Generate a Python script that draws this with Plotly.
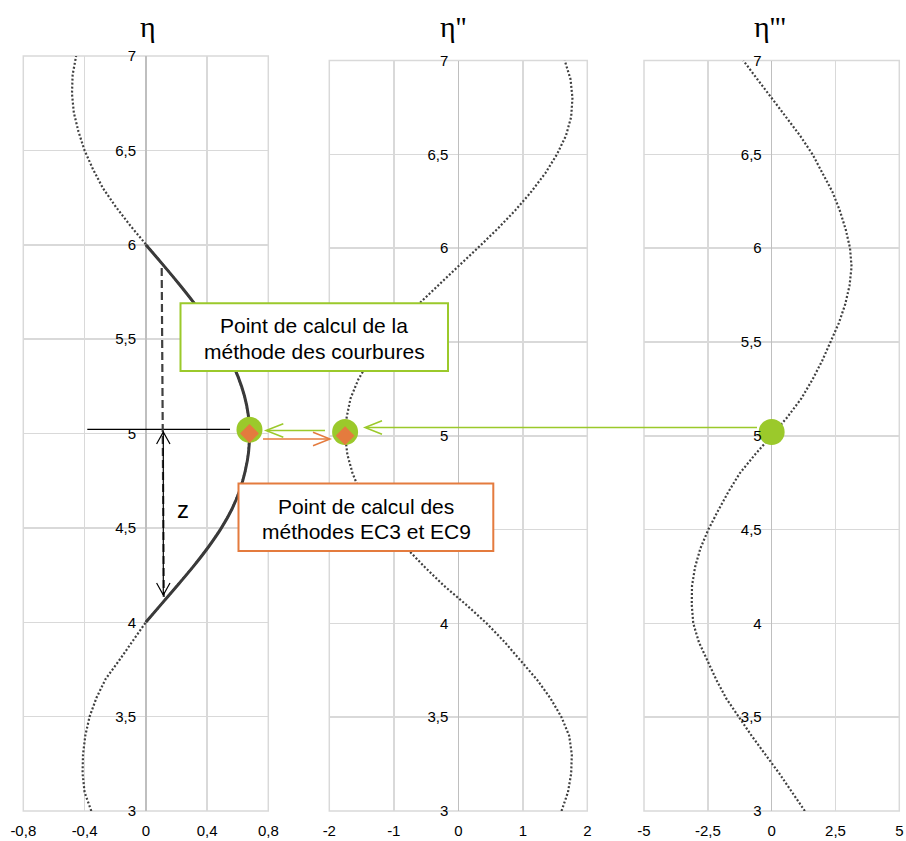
import plotly.graph_objects as go

# the figure fills the whole 906x841 window (body margin removed after drawing)
OFF = 0
W, H = 906 - OFF, 841 - OFF

# ---------------- data ----------------
y_pos = [3.0, 3.1, 3.2, 3.3, 3.4, 3.5, 3.6, 3.7, 3.8, 3.9,
         4.0, 4.1, 4.2, 4.3, 4.4, 4.5, 4.6, 4.7, 4.8, 4.9,
         5.0, 5.1, 5.2, 5.3, 5.4, 5.5, 5.6, 5.7, 5.8, 5.9,
         6.0, 6.1, 6.2, 6.3, 6.4, 6.5, 6.6, 6.7, 6.8, 6.9, 7.0]

eta = [-0.356, -0.400, -0.413, -0.410, -0.395, -0.367, -0.322, -0.262, -0.172, -0.085,
       0.000, 0.106, 0.212, 0.315, 0.410, 0.494, 0.563, 0.614, 0.649, 0.671,
       0.677, 0.669, 0.644, 0.603, 0.548, 0.479, 0.398, 0.307, 0.209, 0.106,
       0.000, -0.100, -0.195, -0.280, -0.345, -0.400, -0.440, -0.470, -0.482, -0.478, -0.455]

eta2 = [1.60, 1.70, 1.75, 1.76, 1.72, 1.60, 1.43, 1.22, 0.97, 0.72,
        0.44, 0.12, -0.22, -0.52, -0.80, -1.06, -1.32, -1.52, -1.64, -1.72,
        -1.755, -1.73, -1.67, -1.55, -1.38, -1.16, -0.90, -0.62, -0.32, -0.01,
        0.30, 0.60, 0.88, 1.13, 1.35, 1.53, 1.67, 1.75, 1.77, 1.74, 1.65]

eta3 = [1.30, 0.80, 0.30, -0.24, -0.78, -1.28, -1.78, -2.17, -2.52, -2.85,
        -3.07, -3.13, -3.12, -3.00, -2.79, -2.48, -2.10, -1.70, -1.25, -0.65,
        0.00, 0.62, 1.17, 1.60, 1.98, 2.32, 2.63, 2.88, 3.05, 3.13,
        3.07, 2.90, 2.67, 2.38, 2.00, 1.60, 1.11, 0.57, 0.00, -0.56, -1.11]

solid_range = [4.0, 6.0]          # part of eta drawn as solid line
calc_y = 5.0                      # calculation section
circle_y = 5.02                   # green circles sit slightly above

titles = ["η", "η''", "η'''"]

x1_ticks = [-0.8, -0.4, 0, 0.4, 0.8]
x1_text = ["-0,8", "-0,4", "0", "0,4", "0,8"]
x2_ticks = [-2, -1, 0, 1, 2]
x2_text = ["-2", "-1", "0", "1", "2"]
x3_ticks = [-5, -2.5, 0, 2.5, 5]
x3_text = ["-5", "-2,5", "0", "2,5", "5"]
y_ticks = [3, 3.5, 4, 4.5, 5, 5.5, 6, 6.5, 7]
y_text = ["3", "3,5", "4", "4,5", "5", "5,5", "6", "6,5", "7"]
# in the middle panel the 4,5 and 5,5 labels are hidden behind the boxes
y_text_mid = ["3", "3,5", "4", "", "5", "", "6", "6,5", "7"]

box1_lines = ["Point de calcul de la", "méthode des courbures"]
box2_lines = ["Point de calcul des", "méthodes EC3 et EC9"]

# ---------------- styles ----------------
GREEN = "#9BC92B"
ORANGE = "#E47B3E"
CURVE = "#404040"
GRID = "#d9d9d9"
ZERO = "#bfbfbf"
FONT = "Liberation Sans, Arial, sans-serif"
SERIF = "Liberation Serif, Times New Roman, serif"


def px(x):
    return (x - OFF) / W


def py(y):
    return 1 - (y - OFF) / H


idx = y_pos.index(calc_y)

fig = go.Figure()

# panel 1 : eta
fig.add_trace(go.Scatter(x=eta, y=y_pos, mode="lines", xaxis="x", yaxis="y",
                         line=dict(color=CURVE, width=2.2, dash="2px,2px"), showlegend=False))
sy = [v for v in y_pos if solid_range[0] <= v <= solid_range[1]]
sx = [eta[i] for i, v in enumerate(y_pos) if solid_range[0] <= v <= solid_range[1]]
fig.add_trace(go.Scatter(x=sx, y=sy, mode="lines", xaxis="x", yaxis="y", line_shape="spline",
                         line=dict(color="#3a3a3a", width=3), showlegend=False))
# panel 2 : eta''
fig.add_trace(go.Scatter(x=eta2, y=y_pos, mode="lines", xaxis="x2", yaxis="y2",
                         line=dict(color=CURVE, width=2.2, dash="2px,2px"), showlegend=False))
# panel 3 : eta'''
fig.add_trace(go.Scatter(x=eta3, y=y_pos, mode="lines", xaxis="x3", yaxis="y3",
                         line=dict(color=CURVE, width=2.2, dash="2px,2px"), showlegend=False))

# calculation points
for xa, ya, series, diamond in (("x", "y", eta, True), ("x2", "y2", eta2, True), ("x3", "y3", eta3, False)):
    fig.add_trace(go.Scatter(x=[series[idx]], y=[circle_y], mode="markers", xaxis=xa, yaxis=ya,
                             marker=dict(color=GREEN, size=26, line=dict(width=0)), showlegend=False))
    if diamond:
        fig.add_trace(go.Scatter(x=[series[idx]], y=[calc_y], mode="markers", xaxis=xa, yaxis=ya,
                                 marker=dict(color=ORANGE, size=14.5, symbol="diamond", line=dict(width=0)),
                                 showlegend=False))

# ---------------- axes ----------------
ydom1 = [py(811), py(56)]
ydom23 = [py(811), py(60.5)]
panels = [
    dict(xd=[px(23.3), px(268.3)], yd=ydom1, xr=[-0.8, 0.8], xt=x1_ticks, xtt=x1_text, zero=px(146), yt=y_text),
    dict(xd=[px(329.3), px(587.3)], yd=ydom23, xr=[-2, 2], xt=x2_ticks, xtt=x2_text, zero=px(458.3), yt=y_text_mid),
    dict(xd=[px(644), px(899.3)], yd=ydom23, xr=[-5, 5], xt=x3_ticks, xtt=x3_text, zero=px(771.7), yt=y_text),
]
layout_axes = {}
shapes = []
for i, p in enumerate(panels):
    s = "" if i == 0 else str(i + 1)
    layout_axes["xaxis" + s] = dict(
        domain=p["xd"], range=p["xr"], anchor="y" + s, tickmode="array", tickvals=p["xt"], ticktext=p["xtt"],
        showgrid=True, gridcolor=GRID, gridwidth=1.5, zeroline=True, zerolinecolor=ZERO, zerolinewidth=1.5,
        showline=False, ticks="", tickfont=dict(family=FONT, size=15, color="#000000"),
        ticklabelstandoff=9, ticklabeloverflow="allow", automargin=False, fixedrange=True)
    layout_axes["yaxis" + s] = dict(
        domain=p["yd"], range=[3, 7], anchor="free", position=p["zero"],
        tickmode="array", tickvals=y_ticks, ticktext=p["yt"],
        showgrid=True, gridcolor=GRID, gridwidth=1.5, zeroline=False, showline=False, ticks="",
        tickfont=dict(family=FONT, size=15, color="#000000"), ticklabelstandoff=10,
        automargin=False, fixedrange=True)
    # panel frame (edge grid lines)
    shapes.append(dict(type="rect", xref=f"x{s} domain", yref=f"y{s} domain", x0=0, x1=1, y0=0, y1=1,
                       line=dict(color=GRID, width=1.5), fillcolor="rgba(0,0,0,0)", layer="below"))

# ---------------- decorations ----------------


def seg(x0, y0, x1, y1, color, width, dash=None):
    d = dict(type="line", xref="paper", yref="paper", x0=px(x0), y0=py(y0), x1=px(x1), y1=py(y1),
             line=dict(color=color, width=width), layer="above")
    if dash:
        d["line"]["dash"] = dash
    shapes.append(d)


def head(tx, ty, bx, by1, bx2, by2, color, width):
    shapes.append(dict(type="path", xref="paper", yref="paper",
                       path=f"M {px(bx)},{py(by1)} L {px(tx)},{py(ty)} L {px(bx2)},{py(by2)}",
                       line=dict(color=color, width=width), layer="above"))


# black horizontal line at section
seg(87.3, 429.3, 230, 429.3, "#000000", 1.2)
# dashed vertical
seg(161.7, 268, 163.8, 597, "#404040", 2.2, dash="8px,4px")
# double arrow z
seg(163.3, 432, 163.3, 595, "#000000", 1.2)
head(163.3, 432, 156.6, 444, 170.0, 444, "#000000", 1.2)
head(163.3, 595, 156.6, 583, 170.0, 583, "#000000", 1.2)
# green long arrow (panel 3 -> panel 2)
seg(757, 427.5, 366, 427.5, GREEN, 1.5)
head(365, 427.5, 382, 420.8, 382, 434.2, GREEN, 1.5)
# green short arrow (panel 2 -> panel 1)
seg(325, 430.5, 267, 430.5, GREEN, 1.5)
head(266, 430.5, 283.3, 423.8, 283.3, 437.2, GREEN, 1.5)
# orange arrow (panel 1 -> panel 2)
seg(263, 439, 329, 439, ORANGE, 1.5)
head(330, 439, 313, 432.3, 313, 445.7, ORANGE, 1.5)

# boxes
shapes.append(dict(type="rect", xref="paper", yref="paper", x0=px(180.5), y0=py(371), x1=px(448), y1=py(303.3),
                   fillcolor="#ffffff", line=dict(color=GREEN, width=2), layer="above"))
shapes.append(dict(type="rect", xref="paper", yref="paper", x0=px(238.5), y0=py(551), x1=px(493.3), y1=py(483.5),
                   fillcolor="#ffffff", line=dict(color=ORANGE, width=2), layer="above"))

annotations = []


def text(x, y, t, size, family=FONT, xanchor="center"):
    annotations.append(dict(x=px(x), y=py(y), xref="paper", yref="paper", text=t, showarrow=False,
                            xanchor=xanchor, yanchor="middle", font=dict(family=family, size=size, color="#000000")))


text(314, 326, box1_lines[0], 21)
text(314, 351, box1_lines[1], 21)
text(366, 507, box2_lines[0], 21)
text(366, 531, box2_lines[1], 21)
text(183, 509, "z", 24)

text(138.3, 27, titles[0], 30, SERIF, "left")
text(438.3, 27, titles[1], 30, SERIF, "left")
text(751.7, 27, titles[2], 30, SERIF, "left")

fig.update_layout(
    width=W, height=H, autosize=False,
    margin=dict(l=0, r=0, t=0, b=0, pad=0),
    paper_bgcolor="#ffffff", plot_bgcolor="#ffffff",
    separators=", ",
    showlegend=False, hovermode=False,
    shapes=shapes, annotations=annotations,
    **layout_axes,
)

fig.write_html("out.html", config={"displayModeBar": False, "staticPlot": True},
               post_script="document.body.style.margin='0px';")
